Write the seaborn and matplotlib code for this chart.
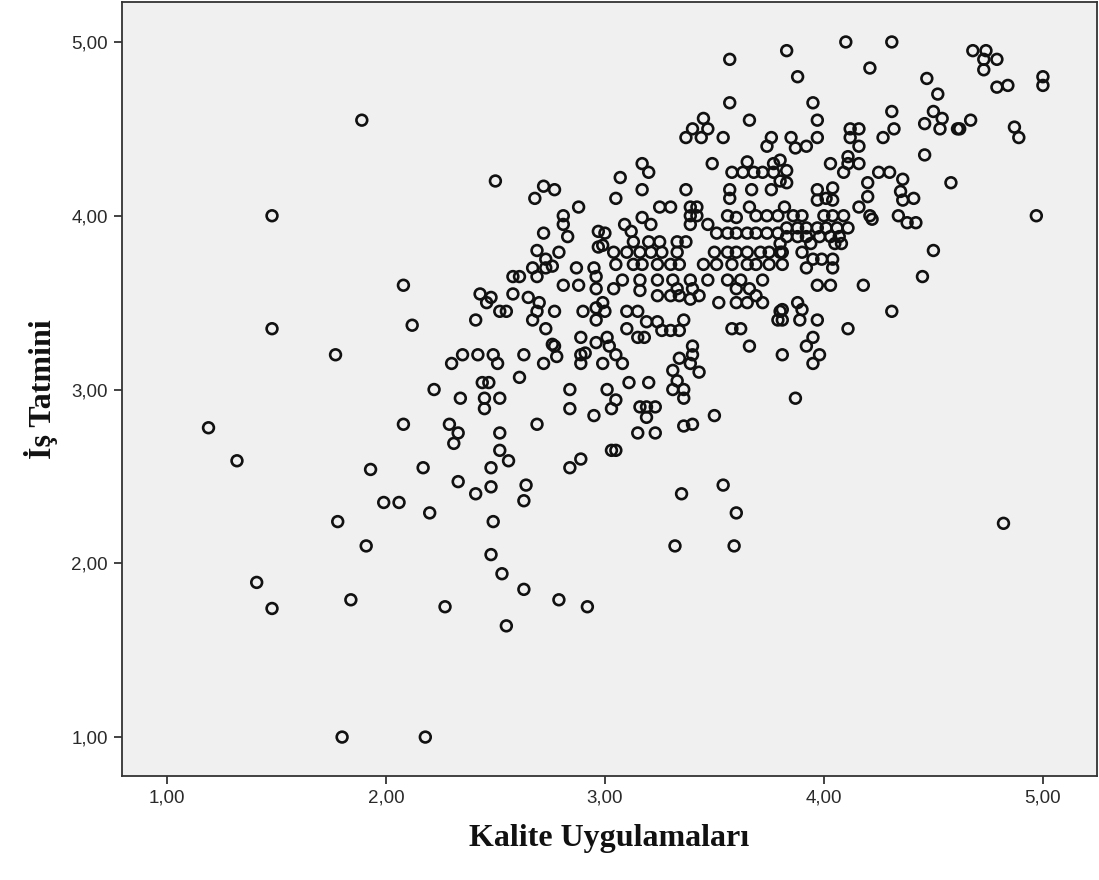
import matplotlib
matplotlib.use("Agg")
import matplotlib.pyplot as plt
import seaborn as sns
import pandas as pd
from matplotlib.ticker import FuncFormatter, FixedLocator

# ---------------- data ----------------
# left / sparse region
kalite_sol = [1.19, 1.32, 1.41, 1.48, 1.48, 1.48, 1.77, 1.78, 1.80, 1.84, 1.89,
              1.91, 1.93, 1.99, 2.06, 2.08, 2.08, 2.12, 2.17, 2.18, 2.20, 2.22]
tatmin_sol = [2.78, 2.59, 1.89, 1.74, 4.00, 3.35, 3.20, 2.24, 1.00, 1.79, 4.55,
              2.10, 2.54, 2.35, 2.35, 3.60, 2.80, 3.37, 2.55, 1.00, 2.29, 3.00]

# lower-left cluster
kalite_a = [2.30, 2.35, 2.42, 2.49, 2.51, 2.63, 2.72, 2.77, 2.78, 2.89, 2.91, 2.89,
            2.44, 2.47, 2.61, 2.34, 2.45, 2.45, 2.52, 2.84, 2.84,
            2.29, 2.33, 2.31, 2.52, 2.69, 2.52, 2.56, 2.48, 2.84, 2.89, 2.33, 2.48,
            2.41, 2.64, 2.63, 2.49, 2.48, 2.53, 2.63, 2.79, 2.92, 2.27, 2.55]
tatmin_a = [3.15, 3.20, 3.20, 3.20, 3.15, 3.20, 3.15, 3.25, 3.19, 3.20, 3.21, 3.15,
            3.04, 3.04, 3.07, 2.95, 2.95, 2.89, 2.95, 3.00, 2.89,
            2.80, 2.75, 2.69, 2.75, 2.80, 2.65, 2.59, 2.55, 2.55, 2.60, 2.47, 2.44,
            2.40, 2.45, 2.36, 2.24, 2.05, 1.94, 1.85, 1.79, 1.75, 1.75, 1.64]

# upper-left cluster
kalite_b = [2.50, 2.72, 2.77, 2.68, 2.88, 2.81, 2.81, 2.83, 2.97, 2.97, 2.72, 2.69,
            2.79, 2.73, 2.67, 2.69, 2.73, 2.76, 2.87, 2.95, 2.96, 2.58, 2.61, 2.81,
            2.88, 2.43, 2.48, 2.46, 2.58, 2.65, 2.70, 2.69, 2.67, 2.52, 2.55, 2.77,
            2.90, 2.96, 2.96, 2.41, 2.73, 2.89, 2.76, 2.96]
tatmin_b = [4.20, 4.17, 4.15, 4.10, 4.05, 4.00, 3.95, 3.88, 3.91, 3.82, 3.90, 3.80,
            3.79, 3.75, 3.70, 3.65, 3.70, 3.71, 3.70, 3.70, 3.65, 3.65, 3.65, 3.60,
            3.60, 3.55, 3.53, 3.50, 3.55, 3.53, 3.50, 3.45, 3.40, 3.45, 3.45, 3.45,
            3.45, 3.47, 3.40, 3.40, 3.35, 3.30, 3.26, 3.27]

# central dense cluster (upper part)
kalite_c = [3.57, 3.66, 3.45, 3.40, 3.47, 3.37, 3.44, 3.54, 3.76, 3.74,
            3.17, 3.20, 3.07, 3.49, 3.65, 3.58, 3.63, 3.68, 3.72, 3.77, 3.77,
            3.17, 3.05, 3.37, 3.57, 3.57, 3.67, 3.76, 3.25, 3.30, 3.39, 3.42, 3.39,
            3.42, 3.39, 3.17, 3.21, 3.09, 3.12, 3.00, 2.99, 3.56, 3.60, 3.66, 3.69,
            3.74, 3.79,
            3.51, 3.56, 3.60, 3.65, 3.69, 3.74, 3.79, 3.47,
            3.13, 3.20, 3.25, 3.33, 3.37,
            3.04, 3.10, 3.16, 3.21, 3.26, 3.33, 3.50, 3.56, 3.60, 3.65, 3.71, 3.75, 3.80,
            3.05, 3.13, 3.17, 3.24, 3.30, 3.34, 3.45, 3.51, 3.58, 3.65, 3.69, 3.75, 3.81,
            3.08, 3.16, 3.24, 3.31, 3.39, 3.47, 3.56, 3.62, 3.72, 3.57]
tatmin_c = [4.65, 4.55, 4.56, 4.50, 4.50, 4.45, 4.45, 4.45, 4.45, 4.40,
            4.30, 4.25, 4.22, 4.30, 4.31, 4.25, 4.25, 4.25, 4.25, 4.30, 4.25,
            4.15, 4.10, 4.15, 4.15, 4.10, 4.15, 4.15, 4.05, 4.05, 4.05, 4.05, 4.00,
            4.00, 3.95, 3.99, 3.95, 3.95, 3.91, 3.90, 3.83, 4.00, 3.99, 4.05, 4.00,
            4.00, 4.00,
            3.90, 3.90, 3.90, 3.90, 3.90, 3.90, 3.90, 3.95,
            3.85, 3.85, 3.85, 3.85, 3.85,
            3.79, 3.79, 3.79, 3.79, 3.79, 3.79, 3.79, 3.79, 3.79, 3.79, 3.79, 3.79, 3.79,
            3.72, 3.72, 3.72, 3.72, 3.72, 3.72, 3.72, 3.72, 3.72, 3.72, 3.72, 3.72, 3.72,
            3.63, 3.63, 3.63, 3.63, 3.63, 3.63, 3.63, 3.63, 3.63, 4.90]

# central cluster (lower part)
kalite_d = [2.96, 3.04, 3.16, 3.33, 3.40, 3.60, 3.66,
            3.24, 3.30, 3.34, 3.39, 3.43,
            3.52, 3.60, 3.65, 3.69, 3.72, 3.80, 3.79,
            2.99, 3.00, 3.10, 3.15, 3.19, 3.24, 3.26, 3.30, 3.34, 3.36, 3.10, 3.15,
            3.18, 3.58, 3.62, 3.66,
            3.01, 3.02, 3.08, 3.05, 2.99,
            3.40, 3.40, 3.34, 3.39, 3.43, 3.31, 3.33, 3.31, 3.36, 3.36, 3.11, 3.20,
            3.01, 3.05, 3.03, 3.16, 3.19, 3.23, 3.19, 2.95, 3.15, 3.23, 3.03, 3.05,
            3.50, 3.36, 3.40, 3.35, 3.54, 3.60, 3.32, 3.59]
tatmin_d = [3.58, 3.58, 3.57, 3.58, 3.58, 3.58, 3.58,
            3.54, 3.54, 3.54, 3.52, 3.54,
            3.50, 3.50, 3.50, 3.54, 3.50, 3.45, 3.40,
            3.50, 3.45, 3.45, 3.45, 3.39, 3.39, 3.34, 3.34, 3.34, 3.40, 3.35, 3.30,
            3.30, 3.35, 3.35, 3.25,
            3.30, 3.25, 3.15, 3.20, 3.15,
            3.25, 3.20, 3.18, 3.15, 3.10, 3.11, 3.05, 3.00, 3.00, 2.95, 3.04, 3.04,
            3.00, 2.94, 2.89, 2.90, 2.90, 2.90, 2.84, 2.85, 2.75, 2.75, 2.65, 2.65,
            2.85, 2.79, 2.80, 2.40, 2.45, 2.29, 2.10, 2.10]

# upper-right cluster
kalite_e = [3.83, 4.10, 4.31, 4.21, 3.88, 4.47, 4.52, 3.95, 4.31, 4.50, 4.54, 4.53,
            4.46, 4.61, 3.97, 4.32, 4.27, 4.12, 4.16, 4.12, 4.16, 3.85, 3.97, 3.87,
            3.92, 4.11, 4.11, 4.16, 4.09, 4.03, 4.46, 4.58, 3.80, 3.83, 3.83, 3.80,
            4.25, 4.30, 4.36, 4.20, 3.97, 4.04, 4.01, 3.97, 4.04, 4.20, 4.35, 4.36,
            4.41, 4.16, 4.21, 3.82, 3.86, 3.90, 4.00, 4.04, 4.09, 4.34, 4.38, 4.42]
tatmin_e = [4.95, 5.00, 5.00, 4.85, 4.80, 4.79, 4.70, 4.65, 4.60, 4.60, 4.56, 4.50,
            4.53, 4.50, 4.55, 4.50, 4.45, 4.50, 4.50, 4.45, 4.40, 4.45, 4.45, 4.39,
            4.40, 4.34, 4.30, 4.30, 4.25, 4.30, 4.35, 4.19, 4.32, 4.26, 4.19, 4.20,
            4.25, 4.25, 4.21, 4.19, 4.15, 4.16, 4.10, 4.09, 4.09, 4.11, 4.14, 4.09,
            4.10, 4.05, 4.00, 4.05, 4.00, 4.00, 4.00, 4.00, 4.00, 4.00, 3.96, 3.96]

# right-middle cluster
kalite_f = [3.83, 3.88, 3.92, 3.97, 4.01, 4.06, 4.11,
            3.83, 3.88, 3.92, 3.98, 4.03, 4.07,
            3.80, 3.94, 4.05, 4.08, 3.81, 3.90,
            4.22, 4.50, 4.45, 3.92, 3.95, 3.99, 4.04, 4.04, 3.97, 4.03, 4.18, 4.31,
            3.88, 3.90, 3.89, 3.97, 3.81, 3.81, 4.11, 3.95, 3.92, 3.98, 3.95, 3.81, 3.87]
tatmin_f = [3.93, 3.93, 3.93, 3.93, 3.93, 3.93, 3.93,
            3.88, 3.88, 3.88, 3.88, 3.88, 3.88,
            3.84, 3.84, 3.84, 3.84, 3.79, 3.79,
            3.98, 3.80, 3.65, 3.70, 3.75, 3.75, 3.75, 3.70, 3.60, 3.60, 3.60, 3.45,
            3.50, 3.46, 3.40, 3.40, 3.46, 3.40, 3.35, 3.30, 3.25, 3.20, 3.15, 3.20, 2.95]

# far-right points
kalite_g = [4.68, 4.74, 4.73, 4.73, 4.79, 4.79, 4.84, 5.00, 5.00, 4.67, 4.62,
            4.87, 4.89, 4.97, 4.82]
tatmin_g = [4.95, 4.95, 4.90, 4.84, 4.90, 4.74, 4.75, 4.80, 4.75, 4.55, 4.50,
            4.51, 4.45, 4.00, 2.23]

tick_values = [1.0, 2.0, 3.0, 4.0, 5.0]
x_label = "Kalite Uygulamaları"
y_label = "İş Tatmini"

# ---------------- build frame ----------------
kalite = (kalite_sol + kalite_a + kalite_b + kalite_c + kalite_d + kalite_e
          + kalite_f + kalite_g)
tatmin = (tatmin_sol + tatmin_a + tatmin_b + tatmin_c + tatmin_d + tatmin_e
          + tatmin_f + tatmin_g)
df = pd.DataFrame({"Kalite": kalite, "Tatmin": tatmin})

sns.set_theme(style="white")
plt.rcParams["font.family"] = ["Liberation Sans", "DejaVu Sans"]

fig = plt.figure(figsize=(10.99, 8.80), dpi=100)
fig.patch.set_facecolor("white")
ax = fig.add_axes([122 / 1099, 1 - 776 / 880, (1097 - 122) / 1099, (776 - 2) / 880])
ax.set_facecolor("#F0F0F0")

sns.scatterplot(data=df, x="Kalite", y="Tatmin", ax=ax, marker="o", s=60,
                facecolor="none", edgecolor="#111111", linewidth=1.9, legend=False)
for coll in ax.collections:
    coll.set_facecolor("none")
    coll.set_edgecolor("#111111")
    coll.set_linewidth(1.9)

ax.set_xlim(0.795, 5.247)
ax.set_ylim(0.776, 5.23)
ax.xaxis.set_major_locator(FixedLocator(tick_values))
ax.yaxis.set_major_locator(FixedLocator(tick_values))
fmt = FuncFormatter(lambda v, _: f"{v:.2f}".replace(".", ","))
ax.xaxis.set_major_formatter(fmt)
ax.yaxis.set_major_formatter(fmt)

for sp in ax.spines.values():
    sp.set_visible(True)
    sp.set_color("#333333")
    sp.set_linewidth(1.3)

ax.tick_params(axis="both", which="major", direction="out", length=6, width=1.2,
               color="#222222", labelsize=13.5, labelcolor="#2a2a2a", pad=4,
               bottom=True, left=True, top=False, right=False)

ax.set_xlabel(x_label, fontsize=23, fontweight="bold",
              family=["Liberation Serif", "DejaVu Serif"], color="#111111", labelpad=12)
ax.set_ylabel(y_label, fontsize=23, fontweight="bold",
              family=["Liberation Serif", "DejaVu Serif"], color="#111111", labelpad=10)

fig.savefig("out.png", dpi=100, facecolor="white")
